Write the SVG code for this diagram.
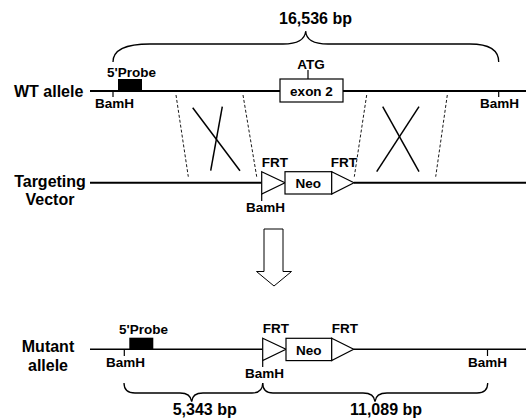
<svg xmlns="http://www.w3.org/2000/svg" width="526" height="419" viewBox="0 0 526 419">
<style>
text{font-family:"Liberation Sans",Arial,sans-serif;font-weight:bold;fill:#000}
.big{font-size:16px}
.sm{font-size:13.5px}
.mid{text-anchor:middle}
.dna{stroke:#000;fill:none}
.box{stroke:#000;stroke-width:1.2;fill:#fff}
.tick{stroke:#000;stroke-width:1.2;fill:none}
.dash{stroke:#000;stroke-width:0.9;stroke-dasharray:3,2;fill:none}
.cross{stroke:#000;stroke-width:1.5;fill:none}
.brace{stroke:#000;stroke-width:1.3;fill:none}
</style>
<rect width="526" height="419" fill="#fff"/>

<g id="wt-allele">
  <text class="big" x="14" y="97">WT allele</text>
  <line class="dna" x1="90" y1="91" x2="526" y2="91" stroke-width="2"/>
  <rect x="118" y="79" width="24" height="12" fill="#000"/>
  <text class="sm" x="107" y="77">5'Probe</text>
  <line class="tick" x1="113" y1="91" x2="113" y2="97"/>
  <text class="sm" x="95" y="108">BamH</text>
  <rect class="box" x="280" y="79" width="63" height="23"/>
  <text class="sm mid" x="311.5" y="96">exon 2</text>
  <line class="tick" x1="308" y1="70" x2="308" y2="79"/>
  <text class="sm mid" x="311" y="69">ATG</text>
  <line class="tick" x1="498.7" y1="91" x2="498.7" y2="97"/>
  <text class="sm" x="480" y="108">BamH</text>
</g>

<g id="size-wt">
  <path class="brace" d="M113,62 C113,50 125,44 150,44 L283,44 C296,44 305,40 305.7,31 C306,40 315,44 328,44 L470,44 C490,44 498.7,50 498.7,62"/>
  <text class="big" x="279" y="24">16,536 bp</text>
</g>

<g id="targeting-vector">
  <text class="big mid" x="50" y="187">Targeting</text>
  <text class="big mid" x="50" y="205">Vector</text>
  <line class="dna" x1="90" y1="182.7" x2="261.7" y2="182.7" stroke-width="2"/>
  <polygon class="box" points="261.7,171.7 285,182.7 261.7,194"/>
  <rect class="box" x="285" y="171.7" width="46.7" height="22.3"/>
  <text class="sm mid" x="308.3" y="188">Neo</text>
  <polygon class="box" points="331.7,171.7 354,182.7 331.7,194"/>
  <line class="dna" x1="354" y1="182.7" x2="526" y2="182.7" stroke-width="2"/>
  <line class="tick" x1="261.7" y1="194" x2="261.7" y2="201"/>
  <text class="sm" x="261.7" y="166.7">FRT</text>
  <text class="sm" x="330.7" y="166.7">FRT</text>
  <text class="sm" x="246" y="211.7">BamH</text>
</g>

<g id="recombination">
  <line class="dash" x1="176" y1="95" x2="188.3" y2="176.7"/>
  <line class="dash" x1="243" y1="95" x2="256.7" y2="176.7"/>
  <line class="cross" x1="192.7" y1="107.7" x2="240" y2="170.7"/>
  <line class="cross" x1="222.3" y1="106.7" x2="210.7" y2="170.7"/>
  <line class="dash" x1="366.7" y1="95" x2="354.3" y2="176.7"/>
  <line class="dash" x1="447.3" y1="95" x2="435.7" y2="176.7"/>
  <line class="cross" x1="382.7" y1="106.7" x2="419" y2="171.7"/>
  <line class="cross" x1="419" y1="106.7" x2="376.7" y2="171.7"/>
</g>

<g id="arrow">
  <polygon points="264,229 283,229 283,271.5 291.5,271.5 274,286 256.5,271.5 264,271.5" fill="#fff" stroke="#000" stroke-width="1"/>
</g>

<g id="mutant-allele">
  <text class="big mid" x="48" y="352">Mutant</text>
  <text class="big mid" x="48" y="371">allele</text>
  <line class="dna" x1="90" y1="349.3" x2="262.7" y2="349.3" stroke-width="1.6"/>
  <rect x="129.3" y="337.7" width="24" height="11.6" fill="#000"/>
  <text class="sm" x="119" y="334.3">5'Probe</text>
  <line class="tick" x1="124.3" y1="349.3" x2="124.3" y2="356"/>
  <text class="sm" x="106" y="366.7">BamH</text>
  <polygon class="box" points="262.7,338.3 286,349.3 262.7,360.6"/>
  <rect class="box" x="286" y="338.3" width="45.7" height="22.3"/>
  <text class="sm mid" x="308.8" y="355">Neo</text>
  <polygon class="box" points="331.7,338.3 353.7,349.3 331.7,360.6"/>
  <line class="dna" x1="353.7" y1="349.3" x2="526" y2="349.3" stroke-width="1.6"/>
  <line class="tick" x1="262.7" y1="360.6" x2="262.7" y2="367"/>
  <text class="sm" x="262.7" y="332.7">FRT</text>
  <text class="sm" x="331.7" y="332.7">FRT</text>
  <text class="sm" x="245" y="377.7">BamH</text>
  <line class="tick" x1="487.5" y1="349.3" x2="487.5" y2="356"/>
  <text class="sm" x="468" y="366.7">BamH</text>
</g>

<g id="size-mutant">
  <path class="brace" d="M124,383 C124,390 128,393 135,393 L180,393 C187,393 191,396 191.7,401.7 C192,396 196,393 203,393 L252,393 C259,393 262.7,390 262.7,383"/>
  <path class="brace" d="M262.7,383 C262.7,390 266,393 273,393 L363,393 C370,393 374.5,396 375,401.7 C375.5,396 380,393 387,393 L477,393 C484,393 487.7,390 487.7,383"/>
  <text class="big" x="172.7" y="414.5">5,343 bp</text>
  <text class="big" x="350" y="414.5">11,089 bp</text>
</g>
</svg>
